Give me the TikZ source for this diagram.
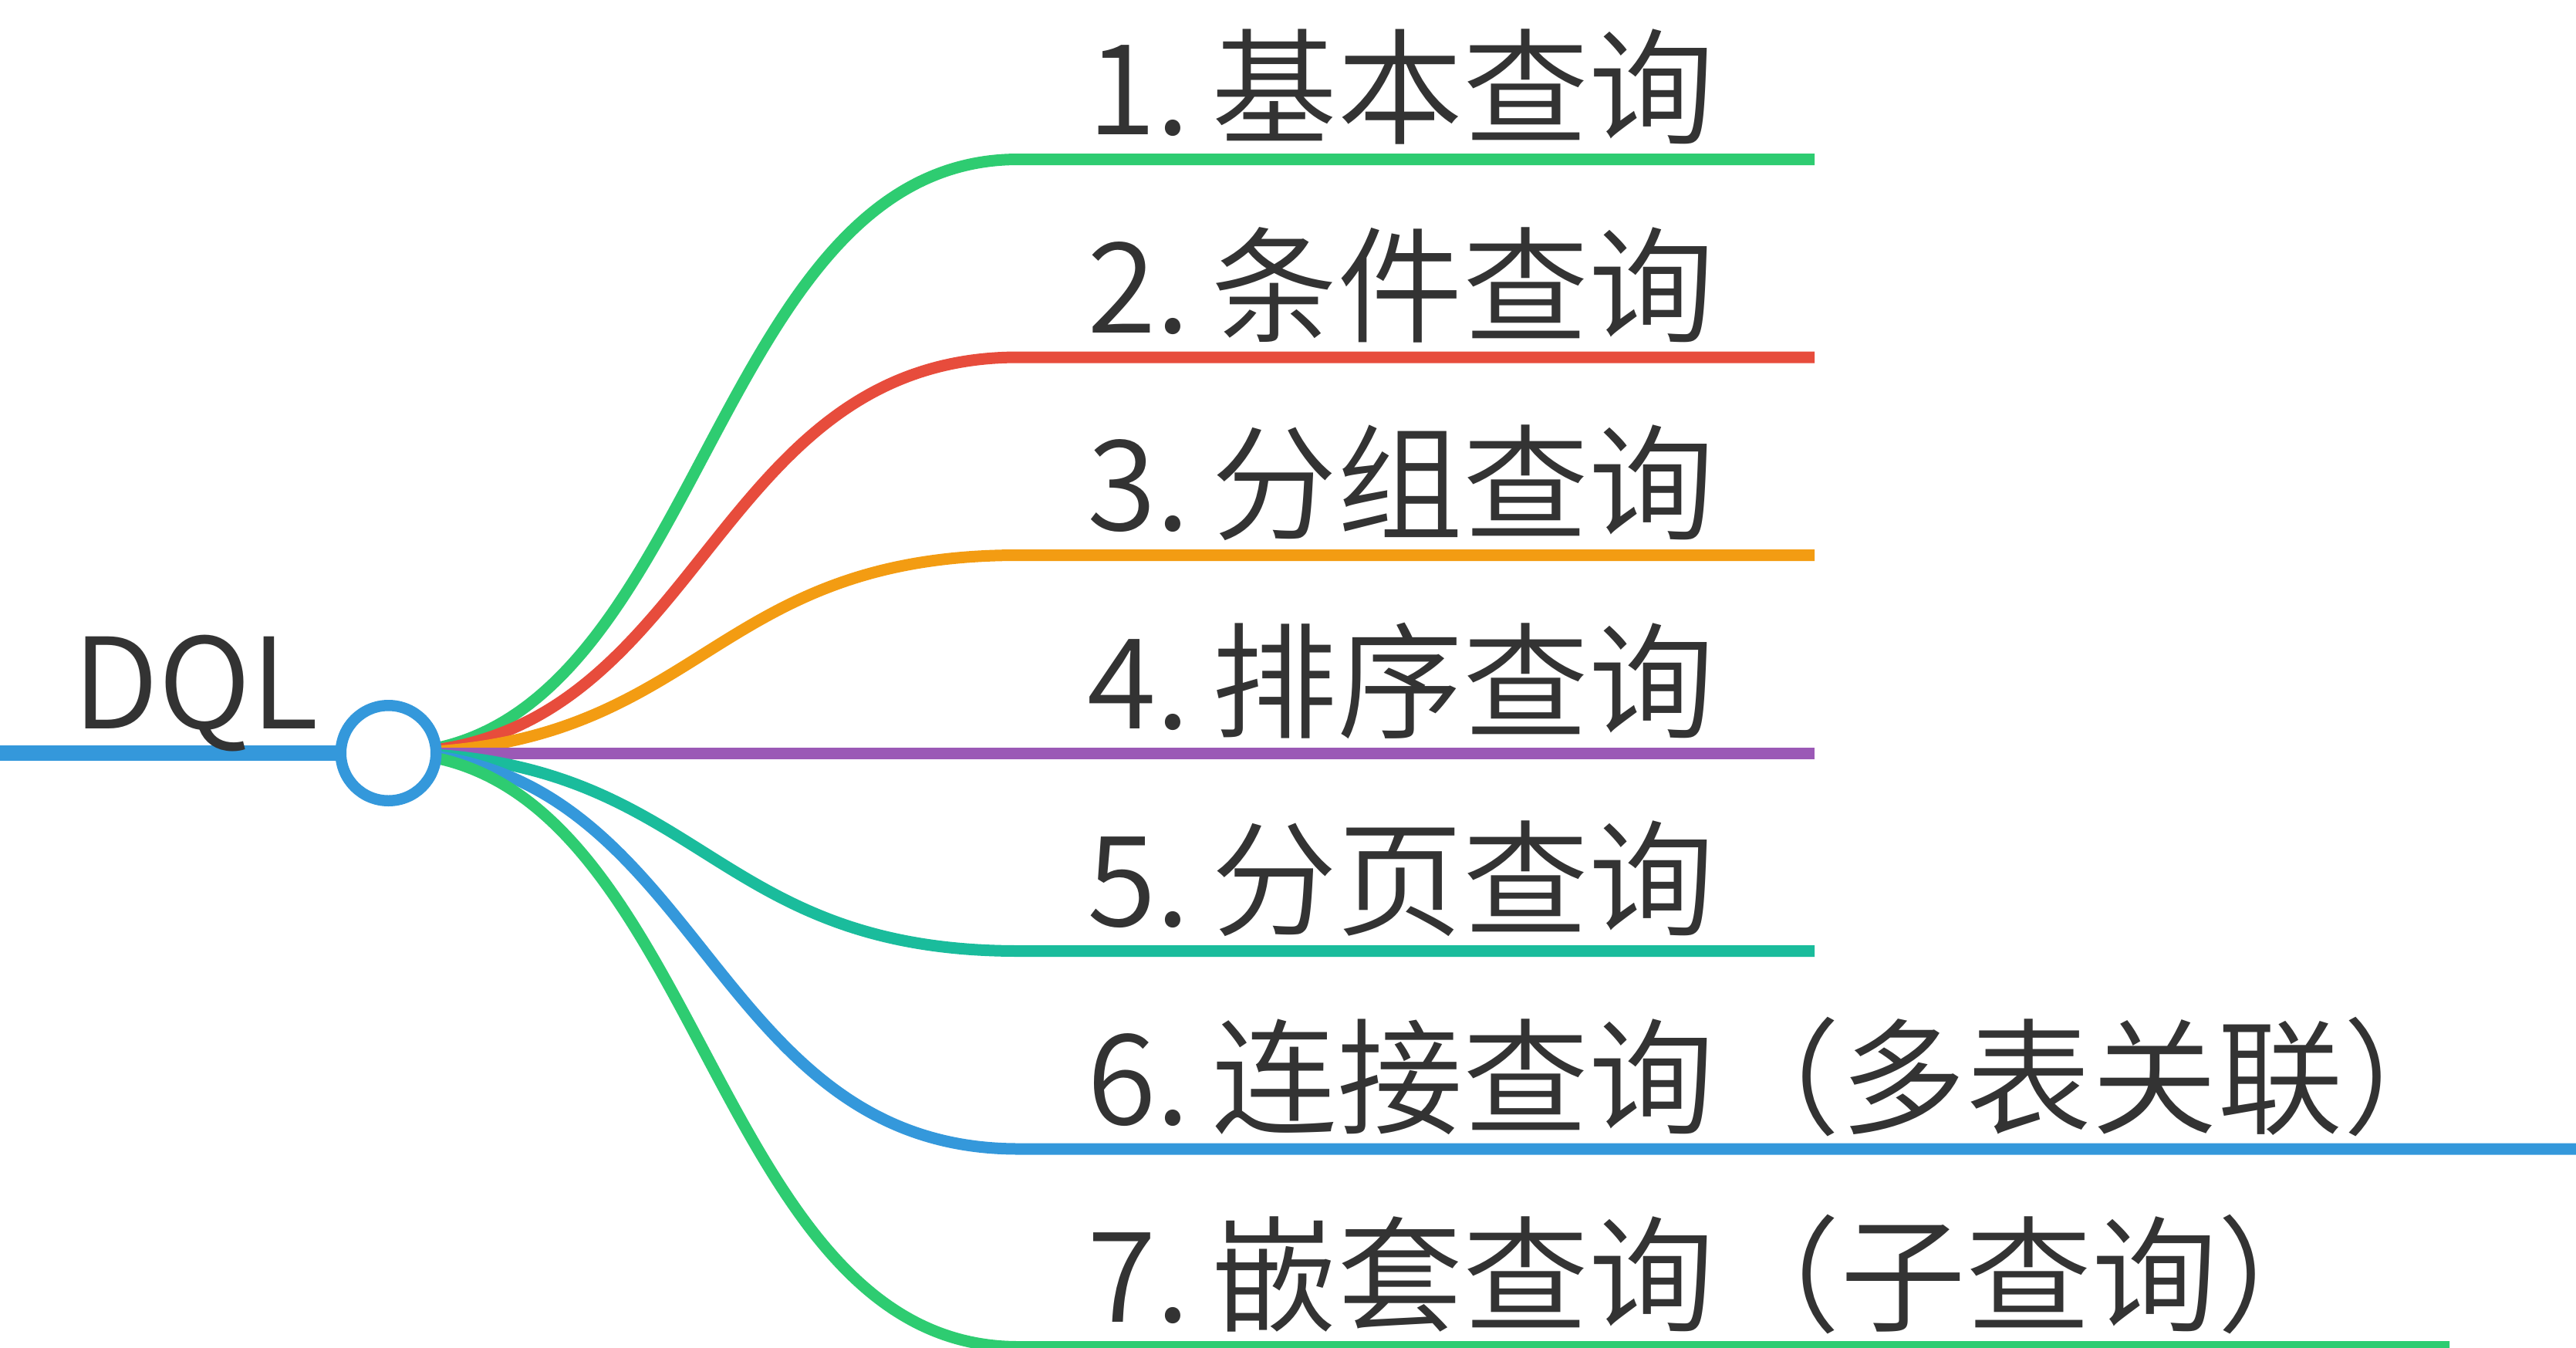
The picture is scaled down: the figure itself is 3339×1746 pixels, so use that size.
\documentclass[tikz,border=0pt]{standalone}
\usepackage{fontspec}
\setmainfont{Noto Sans CJK SC DemiLight}[WordSpace=0.45]
\usetikzlibrary{calc}
\definecolor{qgreen}{HTML}{2ECC71}
\definecolor{qred}{HTML}{E74C3C}
\definecolor{qorange}{HTML}{F39C12}
\definecolor{qpurple}{HTML}{9B59B6}
\definecolor{qteal}{HTML}{1ABC9C}
\definecolor{qblue}{HTML}{3498DB}
\definecolor{qgray}{HTML}{333333}
\pgfdeclarelayer{background}
\pgfsetlayers{background,main}

\begin{document}
\begin{tikzpicture}[x=1pt,y=-1pt,
    qtext/.style={anchor=base west,inner sep=0pt,text=qgray,font=\fontsize{163}{190}\selectfont},
    branch/.style={line width=15pt}]
            \useasboundingbox (0,0) rectangle (3339,1746);

            \node[circle,draw=qblue,fill=white,line width=14.5pt,minimum size=123.5pt,inner sep=0pt] (dql) at (503.5,976) {};
            \node[qtext] (root) at (94,944) {DQL};
            \coordinate (left) at (0,976);
            \coordinate (mid) at (911.75,0);

            \coordinate (s1) at (1320,206.5);
            \coordinate (e1) at (2352,206.5);
            \coordinate (s2) at (1320,463);
            \coordinate (e2) at (2352,463);
            \coordinate (s3) at (1320,719.5);
            \coordinate (e3) at (2352,719.5);
            \coordinate (s4) at (1320,976);
            \coordinate (e4) at (2352,976);
            \coordinate (s5) at (1320,1232.5);
            \coordinate (e5) at (2352,1232.5);
            \coordinate (s6) at (1320,1489);
            \coordinate (e6) at (3339,1489);
            \coordinate (s7) at (1320,1745.5);
            \coordinate (e7) at (3175,1745.5);

            \node[qtext] (q1) at (1409,174.5) {1. 基本查询};
            \node[qtext] (q2) at (1409,431) {2. 条件查询};
            \node[qtext] (q3) at (1409,687.5) {3. 分组查询};
            \node[qtext] (q4) at (1409,944) {4. 排序查询};
            \node[qtext] (q5) at (1409,1200.5) {5. 分页查询};
            \node[qtext] (q6) at (1409,1457) {6. 连接查询（多表关联）};
            \node[qtext] (q7) at (1409,1713.5) {7. 嵌套查询（子查询）};

            \begin{pgfonlayer}{background}
            \draw[line width=20pt,qblue] (left) -- (dql.center);
            \draw[branch,qgreen] (dql.center) .. controls (dql.center -| mid) and (s1 -| mid) .. (s1) -- (e1);
            \draw[branch,qred] (dql.center) .. controls (dql.center -| mid) and (s2 -| mid) .. (s2) -- (e2);
            \draw[branch,qorange] (dql.center) .. controls (dql.center -| mid) and (s3 -| mid) .. (s3) -- (e3);
            \draw[branch,qpurple] (dql.center) -- (s4) -- (e4);
            \draw[branch,qteal] (dql.center) .. controls (dql.center -| mid) and (s5 -| mid) .. (s5) -- (e5);
            \draw[branch,qblue] (dql.center) .. controls (dql.center -| mid) and (s6 -| mid) .. (s6) -- (e6);
            \draw[branch,qgreen] (dql.center) .. controls (dql.center -| mid) and (s7 -| mid) .. (s7) -- (e7);
            \end{pgfonlayer}
\end{tikzpicture}
\end{document}
